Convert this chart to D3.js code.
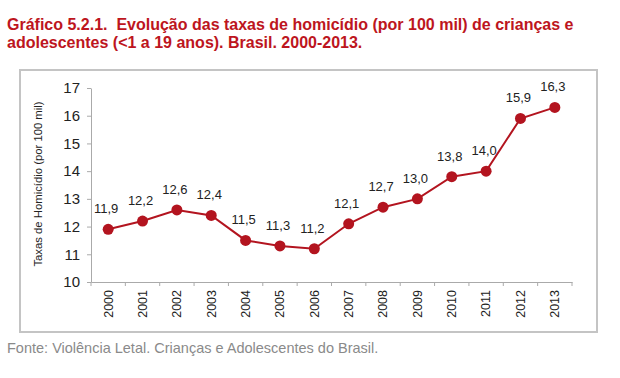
<!DOCTYPE html>
<html><head><meta charset="utf-8">
<script src="https://cdn.jsdelivr.net/npm/d3@7"></script>
<style>body{margin:0;background:#fff;}svg{display:block;font-family:"Liberation Sans",Arial,sans-serif;}</style>
</head><body>
<script>
const years = ["2000","2001","2002","2003","2004","2005","2006","2007","2008","2009","2010","2011","2012","2013"];
const rates = [11.9,12.2,12.6,12.4,11.5,11.3,11.2,12.1,12.7,13.0,13.8,14.0,15.9,16.3];
const yTicks = [10,11,12,13,14,15,16,17];
const titleLines = ["Gráfico 5.2.1.  Evolução das taxas de homicídio (por 100 mil) de crianças e","adolescentes (<1 a 19 anos). Brasil. 2000-2013."];
const yTitle = "Taxas de Homicídio (por 100 mil)";
const source = "Fonte: Violência Letal. Crianças e Adolescentes do Brasil.";

const W=620,H=378;
const svg=d3.select("body").append("svg").attr("width",W).attr("height",H);
const red="#b3141f";

svg.selectAll("text.title").data(titleLines).enter().append("text")
 .attr("x",7).attr("y",(d,i)=>30+i*18).attr("fill","#bd1520")
 .style("white-space","pre")
 .attr("font-size",16).attr("font-weight","bold").text(d=>d);

svg.append("rect").attr("x",20).attr("y",70).attr("width",577).attr("height",262)
 .attr("fill","none").attr("stroke","#c4c4c4").attr("stroke-width",2);

const x=d3.scaleBand().domain(years).range([91,572]);
const y=d3.scaleLinear().domain([10,17]).range([282,88]);

const ya=svg.append("g").attr("transform","translate(91,0)")
 .call(d3.axisLeft(y).tickValues(yTicks).tickFormat(d3.format("d")).tickSize(4).tickSizeOuter(0).tickPadding(7));
ya.select(".domain").attr("stroke","#aaa");
ya.selectAll(".tick line").attr("stroke","#aaa");
ya.selectAll("text").attr("font-size",15).attr("fill","#222").attr("font-family","Liberation Sans, Arial, sans-serif");

const xa=svg.append("g").attr("transform","translate(0,282)")
 .call(d3.axisBottom(x).tickSize(0).tickSizeOuter(0));
xa.select(".domain").attr("stroke","#aaa");
xa.selectAll(".tick line").remove();
xa.selectAll("text").attr("font-size",12.5).attr("fill","#222")
 .attr("font-family","Liberation Sans, Arial, sans-serif")
 .attr("transform","rotate(-90)").attr("text-anchor","end").attr("dy","0.35em").attr("x",-8).attr("y",0);
svg.append("g").selectAll("line").data(years.concat(["end"])).enter().append("line")
 .attr("x1",(d,i)=>i<years.length?x(d):x.range()[1]).attr("x2",(d,i)=>i<years.length?x(d):x.range()[1])
 .attr("y1",282).attr("y2",286).attr("stroke","#aaa");

svg.append("text").attr("transform","translate(42,184) rotate(-90)").attr("text-anchor","middle")
 .attr("font-size",11.3).attr("fill","#222").text(yTitle);

const cx=d=>x(d)+x.bandwidth()/2;
svg.append("path").datum(rates.map((v,i)=>[years[i],v]))
 .attr("d",d3.line().x(d=>cx(d[0])).y(d=>y(d[1])))
 .attr("fill","none").attr("stroke",red).attr("stroke-width",2);
svg.selectAll("circle.pt").data(rates).enter().append("circle")
 .attr("cx",(d,i)=>cx(years[i])).attr("cy",d=>y(d)).attr("r",5.5).attr("fill",red);
svg.selectAll("text.lbl").data(rates).enter().append("text")
 .attr("x",(d,i)=>cx(years[i])-2).attr("y",d=>y(d)-16).attr("text-anchor","middle")
 .attr("font-size",13).attr("fill","#222").text(d=>d.toFixed(1).replace(".",","));

svg.append("text").attr("x",7).attr("y",353).attr("font-size",14.5).attr("fill","#8a8a8a").text(source);
</script>
</body></html>
